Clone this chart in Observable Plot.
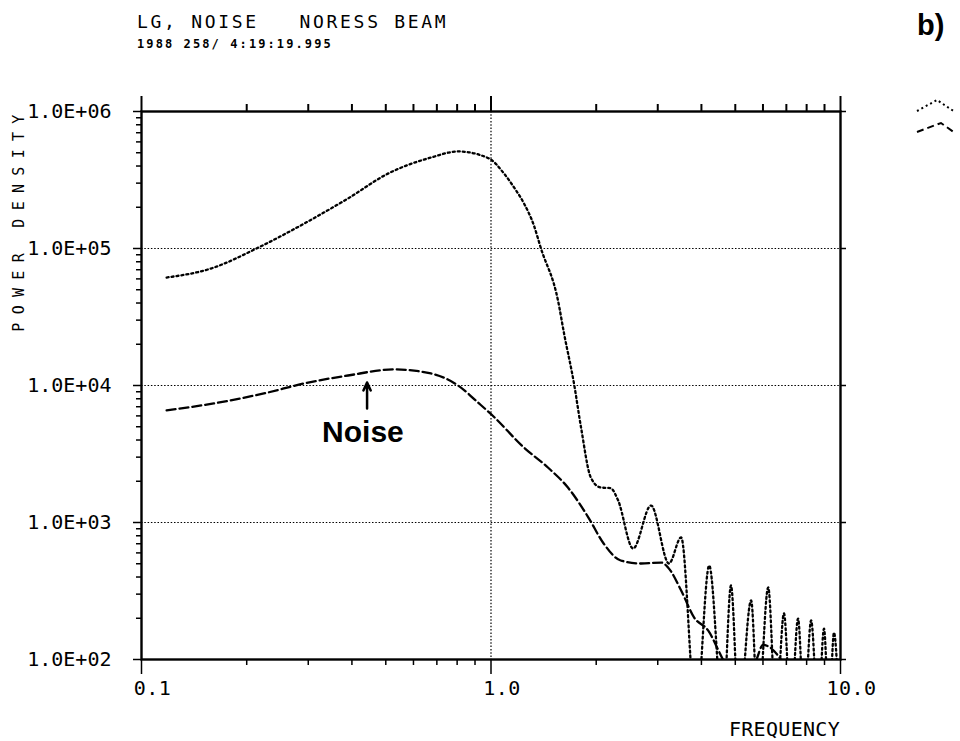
<!DOCTYPE html>
<html>
<head>
<meta charset="utf-8">
<script src="https://cdn.jsdelivr.net/npm/d3@7"></script>
<script src="https://cdn.jsdelivr.net/npm/@observablehq/plot@0.6"></script>
<style>
  html, body { margin: 0; padding: 0; background: #fff; }
  #wrap { position: relative; width: 960px; height: 741px; overflow: hidden; background: #fff; }
  #chart { position: absolute; left: 0; top: 0; }
  .t { position: absolute; font-family: "DejaVu Sans Mono", monospace; color: #000; white-space: pre; line-height: 1; }
  #title { left: 137px; top: 13px; font-size: 18px; letter-spacing: 2.7px; }
  #subtitle { left: 137px; top: 38px; font-size: 12px; font-weight: bold; letter-spacing: 2.1px; }
  #ylabel { left: 19px; top: 219px; font-size: 15px; letter-spacing: 8.3px; transform: translate(-50%, -50%) rotate(-90deg); }
  #xlabel { right: 120px; top: 719px; font-size: 20px; letter-spacing: 0.3px; }
  #panel { left: 917px; top: 11px; font-family: "Liberation Sans", Arial, sans-serif; font-weight: bold; font-size: 29px; }
  #legend { position: absolute; left: 912px; top: 92px; }
  g[aria-label="x-axis tick label"] text { letter-spacing: 0.5px; }
</style>
</head>
<body>
<div id="wrap">
  <div id="chart"></div>
  <div class="t" id="title">LG, NOISE   NORESS BEAM</div>
  <div class="t" id="subtitle">1988 258/ 4:19:19.995</div>
  <div class="t" id="ylabel">POWER DENSITY</div>
  <div class="t" id="xlabel">FREQUENCY</div>
  <div class="t" id="panel">b)</div>
  <svg id="legend" width="48" height="48">
    <path d="M5,19 L25,8 L43,20" fill="none" stroke="#000" stroke-width="2" stroke-dasharray="2,3"/>
    <path d="M5,40 L29,31 L43,41" fill="none" stroke="#000" stroke-width="2" stroke-dasharray="7,4"/>
  </svg>
</div>
<script>
// ---- data ----
const upperFreq = [0.118,0.158,0.216,0.292,0.390,0.507,0.673,0.805,0.987,1.09,1.164,1.243,1.327,1.39,1.555,1.618,1.727,1.81,1.93,2.06,2.20,2.31,2.55,2.87,3.23,3.50,3.86,4.21,4.61,4.86,5.12,5.55,5.81,6.21,6.54,6.89,7.21,7.56,7.87,8.24,8.63,8.97,9.27,9.58,9.91];
const upperPower = [61400,71400,101600,152000,232000,352000,461000,511000,454000,352000,279000,213000,147000,100000,41700,24000,10400,4930,2130,1800,1780,1450,646,1330,502,778,40,485,40,347,40,270,40,336,40,217,40,199,40,193,40,168,40,157,40];

const noiseFreq = [0.118,0.161,0.224,0.292,0.390,0.528,0.673,0.805,0.924,1.01,1.243,1.455,1.66,1.90,2.10,2.35,2.69,3.07,3.21,3.50,3.81,4.18,4.61,5.2,5.75,6.0,6.3,6.75,7.3];
const noisePower = [6580,7400,8750,10350,11830,13100,12240,10000,7400,6040,3520,2520,1800,1087,703,528,502,510,470,319,203,163,100,60,100,128,122,100,70];

const xMajor = [0.1, 1, 10];
const xMajorLabels = ["0.1", "1.0", "10.0"];
const xMinor = [0.2,0.3,0.4,0.5,0.6,0.7,0.8,0.9,2,3,4,5,6,7,8,9];
const yMajor = [1e2, 1e3, 1e4, 1e5, 1e6];
const yMajorLabels = ["1.0E+02","1.0E+03","1.0E+04","1.0E+05","1.0E+06"];
const yMinorMultipliers = [2,3,4,5,6,7,8,9];
const yDecades = [1e2, 1e3, 1e4, 1e5];
const gridYValues = [1e3, 1e4, 1e5];
const gridXValues = [1];

const noiseArrow = [{x: 0.442, y1: 6790, y2: 10500}];
const noiseLabel = [{x: 0.43, y: 4540, text: "Noise"}];

// ---- build tables ----
const upper = upperFreq.map((f, i) => ({f, p: upperPower[i]}));
const noise = noiseFreq.map((f, i) => ({f, p: noisePower[i]}));
const yMinor = yDecades.flatMap(d => yMinorMultipliers.map(m => m * d));
const mono = "DejaVu Sans Mono";

const chart = Plot.plot({
  width: 960,
  height: 741,
  marginLeft: 141,
  marginRight: 120,
  marginTop: 111,
  marginBottom: 82,
  style: {background: "white", color: "black", overflow: "visible"},
  x: {type: "log", domain: [0.1, 10]},
  y: {type: "log", domain: [100, 1e6]},
  marks: [
    Plot.gridY(gridYValues, {stroke: "black", strokeOpacity: 1, strokeWidth: 1.2, strokeDasharray: "1.5,1.8"}),
    Plot.gridX(gridXValues, {stroke: "black", strokeOpacity: 1, strokeWidth: 1.2, strokeDasharray: "1.5,1.8"}),
    // bottom axis
    Plot.axisX(xMinor, {anchor: "bottom", tickSize: 6, tickFormat: () => "", label: null, strokeWidth: 1.5}),
    Plot.axisX(xMajor, {anchor: "bottom", tickSize: 15, tickFormat: () => "", label: null, strokeWidth: 1.5}),
    Plot.axisX(xMajor, {anchor: "bottom", tickSize: 0, tickPadding: 21, tickFormat: d => xMajorLabels[xMajor.indexOf(d)], label: null, fontSize: 20, fontFamily: mono, dx: 11}),
    // top axis
    Plot.axisX(xMinor, {anchor: "top", tickSize: 8, tickFormat: () => "", label: null, strokeWidth: 2}),
    Plot.axisX(xMajor, {anchor: "top", tickSize: 16, tickFormat: () => "", label: null, strokeWidth: 2}),
    // left axis
    Plot.axisY(yMinor, {anchor: "left", tickSize: 5, tickFormat: () => "", label: null, strokeWidth: 1.5}),
    Plot.axisY(yMajor, {anchor: "left", tickSize: 8, tickPadding: 22, tickFormat: d => yMajorLabels[yMajor.indexOf(d)], label: null, strokeWidth: 1.5, fontSize: 20, fontFamily: mono}),
    // right axis
    Plot.axisY(yMajor, {anchor: "right", tickSize: 5, tickFormat: () => "", label: null, strokeWidth: 1.5}),
    Plot.frame({stroke: "black", strokeWidth: 2.4}),
    Plot.line(upper, {x: "f", y: "p", curve: "monotone-x", stroke: "black", strokeWidth: 2.3, strokeDasharray: "2,3", clip: true}),
    Plot.line(noise, {x: "f", y: "p", curve: "monotone-x", stroke: "black", strokeWidth: 2.3, strokeDasharray: "9,4", clip: true}),
    Plot.arrow(noiseArrow, {x: "x", y1: "y1", y2: "y2", stroke: "black", strokeWidth: 2.5, headLength: 9, headAngle: 50}),
    Plot.text(noiseLabel, {x: "x", y: "y", text: "text", fontSize: 30, fontWeight: "bold", fontFamily: "Liberation Sans", fill: "black"})
  ]
});
document.getElementById("chart").appendChild(chart);
</script>
</body>
</html>
